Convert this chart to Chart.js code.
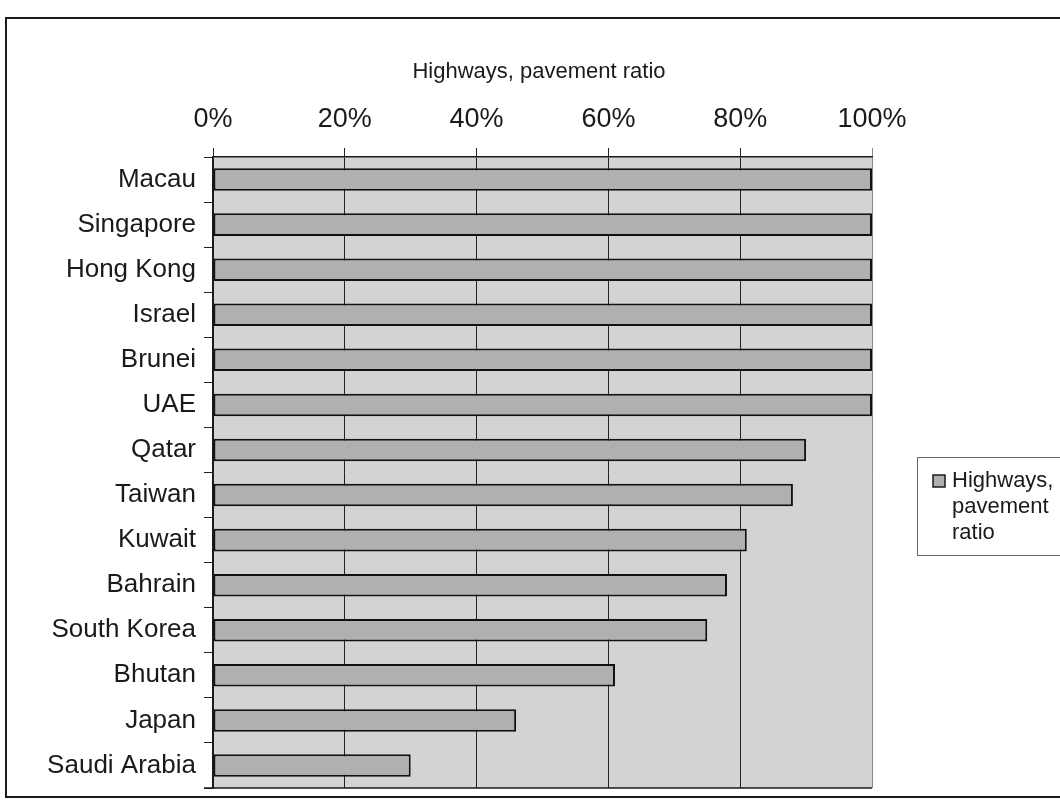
<!DOCTYPE html>
<html>
<head>
<meta charset="utf-8">
<script src="https://cdn.jsdelivr.net/npm/chart.js@4.4.1/dist/chart.umd.min.js"></script>
<style>
  html, body { margin: 0; padding: 0; background: #fff; }
  #wrap { width: 1060px; height: 802px; position: relative; }
</style>
</head>
<body>
<div id="wrap"><canvas id="chart" width="1060" height="802"></canvas></div>
<script>
const countries = ['Macau', 'Singapore', 'Hong Kong', 'Israel', 'Brunei', 'UAE', 'Qatar',
  'Taiwan', 'Kuwait', 'Bahrain', 'South Korea', 'Bhutan', 'Japan', 'Saudi Arabia'];
const pavedShare = [100, 100, 100, 100, 100, 100, 90, 88, 81, 78, 75, 61, 46, 30];
const seriesName = 'Highways, pavement ratio';
const legendLines = ['Highways,', 'pavement', 'ratio'];
const percentTicks = [0, 20, 40, 60, 80, 100];

const FONT = '"Liberation Sans", Arial, sans-serif';
const ink = '#1a1a1a';

// plot background, frame, title and the boxed legend
const decorations = {
  id: 'decorations',
  beforeDraw(chart) {
    const { ctx, chartArea: a } = chart;
    ctx.save();
    ctx.fillStyle = '#fff';
    ctx.fillRect(0, 0, chart.width, chart.height);
    ctx.fillStyle = '#d3d3d3';
    ctx.fillRect(a.left, a.top, a.right - a.left, a.bottom - a.top);
    ctx.restore();
  },
  afterDraw(chart) {
    const { ctx, chartArea: a } = chart;
    ctx.save();
    // bottom edge of the plot
    ctx.strokeStyle = ink;
    ctx.lineWidth = 1.5;
    ctx.beginPath();
    ctx.moveTo(a.left - 9, a.bottom);
    ctx.lineTo(a.right, a.bottom);
    ctx.stroke();

    // outer frame
    ctx.lineWidth = 2;
    ctx.strokeRect(6, 18, 1070, 779);

    // title
    ctx.fillStyle = ink;
    ctx.font = '22px ' + FONT;
    ctx.textAlign = 'center';
    ctx.textBaseline = 'middle';
    ctx.fillText(seriesName, 539, 72);

    // legend
    ctx.strokeStyle = '#666';
    ctx.lineWidth = 1;
    ctx.strokeRect(917.5, 457.5, 150, 98);
    ctx.fillStyle = chart.data.datasets[0].backgroundColor;
    ctx.fillRect(933, 475, 12, 12);
    ctx.strokeStyle = ink;
    ctx.lineWidth = 1.5;
    ctx.strokeRect(933, 475, 12, 12);
    ctx.fillStyle = ink;
    ctx.textAlign = 'left';
    ctx.font = '22px ' + FONT;
    legendLines.forEach((line, i) => ctx.fillText(line, 952, 481 + i * 26));
    ctx.restore();
  }
};

new Chart(document.getElementById('chart'), {
  type: 'bar',
  data: {
    labels: countries,
    datasets: [{
      label: seriesName,
      data: pavedShare,
      backgroundColor: '#b0b0b0',
      borderColor: '#111',
      borderWidth: 2,
      borderSkipped: false,
      categoryPercentage: 1,
      barPercentage: 0.5
    }]
  },
  options: {
    indexAxis: 'y',
    responsive: false,
    animation: false,
    layout: { padding: { left: 0, top: 0, right: 188, bottom: 14 } },
    plugins: {
      legend: { display: false },
      title: { display: false },
      tooltip: { enabled: false }
    },
    scales: {
      x: {
        position: 'top',
        min: 0,
        max: 100,
        afterFit: s => { s.height = 157; },
        afterBuildTicks: s => { s.ticks = percentTicks.map(v => ({ value: v })); },
        ticks: {
          callback: v => v + '%',
          font: { family: FONT, size: 27 },
          color: ink,
          padding: 12
        },
        grid: {
          color: c => c.tick && c.tick.value === 100 ? '#8a8a8a' : '#222',
          lineWidth: 1,
          tickLength: 9,
          drawTicks: true
        },
        border: { display: true, color: ink, width: 1.5 }
      },
      y: {
        afterFit: s => {
          s.width = 213;
          s.paddingTop = 0;
          s.paddingBottom = 0;
        },
        ticks: {
          font: { family: FONT, size: 26 },
          color: ink,
          padding: 8
        },
        grid: {
          drawOnChartArea: false,
          drawTicks: true,
          tickLength: 9,
          color: '#222'
        },
        border: { display: true, color: ink, width: 1.5 }
      }
    }
  },
  plugins: [decorations]
});
</script>
</body>
</html>
